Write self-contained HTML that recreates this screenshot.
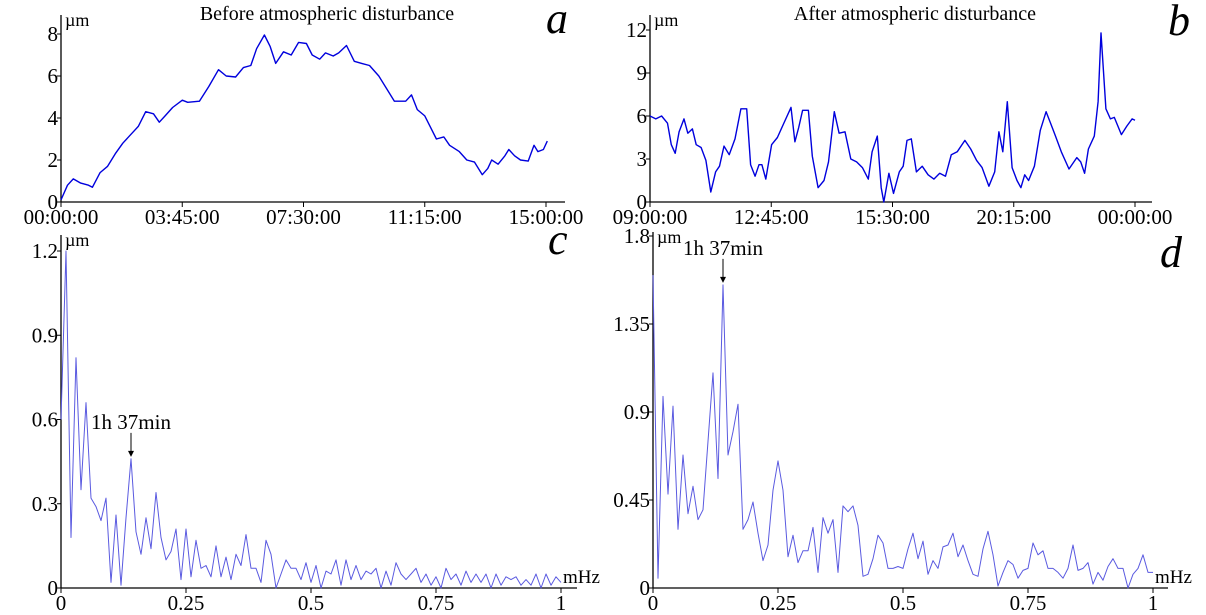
<!DOCTYPE html>
<html><head><meta charset="utf-8">
<style>
html,body{margin:0;padding:0;background:#fff;}
svg{display:block;font-family:"Liberation Serif",serif;}
</style></head>
<body>
<svg id="chart" width="1206" height="615" viewBox="0 0 1206 615" xmlns="http://www.w3.org/2000/svg"></svg>
<script>
// ---- Panel a data (hours, µm)
const aTimes = [0,0.2,0.38,0.61,0.85,0.97,1.21,1.44,1.68,1.91,2.15,2.39,2.62,2.86,3.04,3.22,3.45,3.75,3.92,4.28,4.57,4.87,5.11,5.40,5.64,5.87,6.05,6.29,6.47,6.64,6.88,7.12,7.35,7.59,7.77,8.0,8.18,8.42,8.59,8.83,9.07,9.30,9.54,9.83,10.07,10.31,10.66,10.84,11.02,11.25,11.61,11.84,12.02,12.32,12.55,12.79,13.03,13.2,13.32,13.52,13.73,13.85,14.03,14.21,14.45,14.63,14.75,14.92,15.04];
const aValues = [0.1,0.8,1.1,0.9,0.8,0.7,1.4,1.7,2.3,2.8,3.2,3.6,4.3,4.2,3.8,4.1,4.5,4.85,4.75,4.8,5.5,6.3,6.0,5.95,6.4,6.5,7.3,7.95,7.4,6.6,7.15,7.0,7.6,7.55,7.0,6.8,7.1,6.95,7.1,7.45,6.7,6.6,6.5,6.0,5.4,4.8,4.8,5.1,4.4,4.1,3.0,3.1,2.7,2.4,2.0,1.9,1.3,1.6,2.0,1.8,2.2,2.5,2.2,2.0,1.95,2.7,2.4,2.5,2.9];
const aYTicks = [0,2,4,6,8];
const aXTicks = [0,3.75,7.5,11.25,15];
const aXLabels = ["00:00:00","03:45:00","07:30:00","11:15:00","15:00:00"];
// ---- Panel b data
const bTimes = [0,0.18,0.36,0.54,0.66,0.78,0.90,1.05,1.17,1.31,1.43,1.58,1.73,1.88,2.03,2.15,2.29,2.45,2.63,2.81,2.99,3.11,3.25,3.37,3.46,3.58,3.76,3.94,4.12,4.36,4.48,4.60,4.72,4.90,5.02,5.20,5.38,5.52,5.70,5.85,6.03,6.21,6.39,6.57,6.75,6.87,7.03,7.15,7.23,7.39,7.53,7.71,7.83,7.95,8.08,8.24,8.42,8.60,8.78,8.96,9.14,9.32,9.50,9.74,9.92,10.10,10.27,10.48,10.66,10.79,10.91,11.05,11.20,11.35,11.47,11.59,11.71,11.89,12.07,12.25,12.37,12.54,12.72,12.96,13.20,13.32,13.44,13.56,13.74,13.86,13.95,14.10,14.24,14.36,14.58,14.75,14.91,15];
const bValues = [6.0,5.8,6.0,5.5,4.0,3.4,4.9,5.8,4.8,5.1,4.0,3.8,2.9,0.7,2.1,2.5,3.9,3.3,4.4,6.5,6.5,2.6,1.8,2.6,2.6,1.6,4.0,4.5,5.4,6.6,4.2,5.2,6.4,6.4,3.2,1.0,1.5,2.8,6.3,4.8,4.9,3.0,2.8,2.4,1.6,3.5,4.6,1.0,0.0,2.0,0.6,2.1,2.5,4.3,4.4,2.1,2.5,1.9,1.6,2.0,1.8,3.3,3.5,4.3,3.7,2.9,2.4,1.1,2.1,4.9,3.5,7.0,2.4,1.5,1.0,1.9,1.5,2.5,5.0,6.3,5.6,4.6,3.5,2.3,3.1,2.8,2.0,3.7,4.6,7.0,11.8,6.5,5.8,5.9,4.7,5.3,5.8,5.7];
const bYTicks = [0,3,6,9,12];
const bXTicks = [0,3.75,7.5,11.25,15];
const bXLabels = ["09:00:00","12:45:00","15:30:00","20:15:00","00:00:00"];
// ---- Panel c spectrum (step 0.01 mHz)
const cValues = [0.6,1.2,0.18,0.82,0.35,0.66,0.32,0.29,0.24,0.32,0.02,0.26,0.01,0.25,0.46,0.2,0.12,0.25,0.14,0.34,0.18,0.1,0.13,0.21,0.03,0.21,0.04,0.17,0.07,0.08,0.04,0.15,0.04,0.11,0.03,0.12,0.08,0.19,0.07,0.07,0.02,0.17,0.12,0.0,0.05,0.1,0.07,0.07,0.03,0.09,0.02,0.08,0.0,0.06,0.05,0.1,0.01,0.1,0.03,0.08,0.03,0.06,0.05,0.07,0.0,0.06,0.01,0.09,0.05,0.03,0.05,0.07,0.02,0.05,0.01,0.04,0.0,0.07,0.03,0.05,0.01,0.06,0.02,0.05,0.02,0.05,0.0,0.05,0.01,0.04,0.03,0.04,0.01,0.03,0.01,0.05,0.0,0.05,0.01,0.04,0.02];
const cYTicks = [0,0.3,0.6,0.9,1.2];
const cYLabels = ["0","0.3","0.6","0.9","1.2"];
// ---- Panel d spectrum
const dValues = [1.6,0.05,0.98,0.48,0.93,0.3,0.68,0.38,0.52,0.35,0.4,0.75,1.1,0.56,1.55,0.68,0.8,0.94,0.3,0.35,0.44,0.28,0.14,0.22,0.5,0.65,0.5,0.16,0.27,0.13,0.19,0.19,0.31,0.08,0.36,0.28,0.35,0.08,0.42,0.39,0.42,0.32,0.06,0.07,0.15,0.27,0.23,0.1,0.1,0.11,0.1,0.2,0.28,0.15,0.24,0.07,0.14,0.1,0.21,0.22,0.28,0.16,0.22,0.14,0.07,0.06,0.2,0.29,0.17,0.01,0.08,0.14,0.12,0.05,0.09,0.1,0.23,0.17,0.19,0.1,0.1,0.08,0.05,0.1,0.22,0.09,0.1,0.13,0.02,0.08,0.04,0.11,0.15,0.1,0.1,0.0,0.07,0.1,0.17,0.08,0.08];
const dYTicks = [0,0.45,0.9,1.35,1.8];
const dYLabels = ["0","0.45","0.9","1.35","1.8"];
const fTicks = [0,0.25,0.5,0.75,1];
const fLabels = ["0","0.25","0.5","0.75","1"];
const fStep = 0.01;

const svg = document.getElementById('chart');
const NS = 'http://www.w3.org/2000/svg';
function mk(tag, attrs, parent){const e=document.createElementNS(NS,tag);for(const k in attrs)e.setAttribute(k,attrs[k]);(parent||svg).appendChild(e);return e;}
function txt(s, attrs, parent){const e=mk('text',attrs,parent);e.textContent=s;return e;}

function panel(o){
  const g=mk('g',{});
  
  
  const sx=v=>o.x0+(v-o.xmin)/(o.xmax-o.xmin)*(o.x1-o.x0);
  const sy=v=>o.y0-(v/o.ymax)*(o.y0-o.y1);
  // axes
  const ya=mk('line',{x1:o.x0,y1:o.y0,x2:o.x0,y2:o.top,stroke:'#000','stroke-width':1.3},g);
  
  
  const xa=mk('line',{x1:o.x0,y1:o.y0,x2:o.right,y2:o.y0,stroke:'#000','stroke-width':1.3},g);
  
  
  o.yTicks.forEach((v,i)=>{
    const y=sy(v);
    mk('line',{x1:o.x0-4,y1:y,x2:o.x0,y2:y,stroke:'#000','stroke-width':1},g);
    const t=txt(o.yLabels?o.yLabels[i]:String(v),{x:o.x0-3,y:y+7,'font-size':21,'text-anchor':'end'},g);
    
    
  });
  o.xTicks.forEach((v,i)=>{
    const x=sx(v);
    mk('line',{x1:x,y1:o.y0,x2:x,y2:o.y0+5,stroke:'#000','stroke-width':1},g);
    const t=txt(o.xLabels[i],{x:x,y:o.y0+22,'font-size':21,'text-anchor':'middle'},g);
    
    
  });
  const u=txt('µm',{x:o.x0+4,y:o.top+11,'font-size':18},g);
  
  
  const pts=o.xs.map((x,i)=>sx(x).toFixed(1)+','+sy(o.ys[i]).toFixed(1)).join(' ');
  const pl=mk('polyline',{points:pts,fill:'none',stroke:o.color,'stroke-width':o.sw,'stroke-linejoin':'round'},g);
  
  
  const L=txt(o.letter,{x:o.lx,y:o.ly,'font-size':44,'font-style':'italic'},g);
  
  
  return {sx,sy,g};
}

panel({name:'panel-a',x0:61,x1:546,xmin:0,xmax:15,y0:202,y1:34,ymax:8,top:15,right:565,
  yTicks:aYTicks,xTicks:aXTicks,xLabels:aXLabels,xs:aTimes,ys:aValues,color:'#0000dd',sw:1.4,letter:'a',lx:546,ly:33});
const tA=txt('Before atmospheric disturbance',{x:327,y:20,'font-size':20,'text-anchor':'middle'});



panel({name:'panel-b',x0:650,x1:1135,xmin:0,xmax:15,y0:202,y1:30,ymax:12,top:15,right:1152,
  yTicks:bYTicks,xTicks:bXTicks,xLabels:bXLabels,xs:bTimes,ys:bValues,color:'#0000dd',sw:1.4,letter:'b',lx:1168,ly:35});
const tB=txt('After atmospheric disturbance',{x:915,y:20,'font-size':20,'text-anchor':'middle'});



const cF=cValues.map((v,i)=>i*fStep);
const pc=panel({name:'panel-c',x0:61,x1:561,xmin:0,xmax:1,y0:588,y1:251,ymax:1.2,top:235,right:577,
  yTicks:cYTicks,yLabels:cYLabels,xTicks:fTicks,xLabels:fLabels,xs:cF,ys:cValues,color:'#5a5ae0',sw:1,letter:'c',lx:548,ly:254});
const dF=dValues.map((v,i)=>i*fStep);
const pd=panel({name:'panel-d',x0:653,x1:1153,xmin:0,xmax:1,y0:588,y1:236,ymax:1.8,top:232,right:1168,
  yTicks:dYTicks,yLabels:dYLabels,xTicks:fTicks,xLabels:fLabels,xs:dF,ys:dValues,color:'#5a5ae0',sw:1,letter:'d',lx:1160,ly:267});

[[pc,cValues,'c'],[pd,dValues,'d']].forEach(([p,vals,k])=>{
  const m=txt('mHz',{x:k==='c'?563:1155,y:583,'font-size':19},p.g);
  
  
  const x=p.sx(14*fStep), y=p.sy(vals[14]);
  const ar=mk('line',{x1:x,y1:y-26,x2:x,y2:y-3,stroke:'#000','stroke-width':1},p.g);
  
  
  mk('path',{d:`M${x-3},${y-8} L${x},${y-2} L${x+3},${y-8} Z`,fill:'#000'},p.g);
  const a=txt('1h 37min',{x:x,y:y-30,'font-size':21,'text-anchor':'middle'},p.g);
  
  
});
</script>
</body></html>
